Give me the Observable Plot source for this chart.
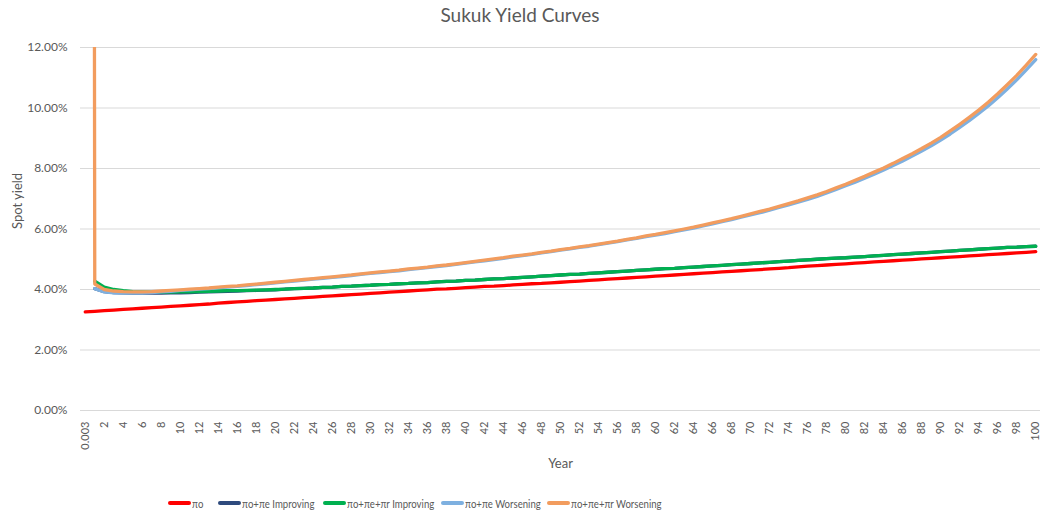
<!DOCTYPE html>
<html><head><meta charset="utf-8">
<script src="https://cdn.jsdelivr.net/npm/d3@7"></script>
<script src="https://cdn.jsdelivr.net/npm/@observablehq/plot@0.6"></script>
<style>
body{margin:0;background:#fff;font-family:Lato,"Open Sans",sans-serif;}
#wrap{position:relative;width:1040px;height:512px;overflow:hidden;background:#fff;}
#title{position:absolute;top:3px;left:0;width:1040px;text-align:center;font-size:19px;color:#595959;line-height:24px;}
#chart{position:absolute;top:30px;left:0;}
#legend{position:absolute;top:495px;left:0;width:1040px;height:16px;font-size:12px;color:#595959;white-space:nowrap;}
.item{position:absolute;top:0;display:flex;align-items:center;height:16px;}
.sw{width:23px;height:3.5px;border-radius:2px;margin-right:1px;flex:none;}
.tx{display:inline-block;transform:scaleX(0.8);transform-origin:left center;}
</style></head>
<body><div id="wrap"><div id="title">Sukuk Yield Curves</div><div id="chart"></div><div id="legend"></div></div>
<script>
const years = ["0.003",1,2,3,4,5,6,7,8,9,10,11,12,13,14,15,16,17,18,19,20,21,22,23,24,25,26,27,28,29,30,31,32,33,34,35,36,37,38,39,40,41,42,43,44,45,46,47,48,49,50,51,52,53,54,55,56,57,58,59,60,61,62,63,64,65,66,67,68,69,70,71,72,73,74,75,76,77,78,79,80,81,82,83,84,85,86,87,88,89,90,91,92,93,94,95,96,97,98,99,100].map(String);

const seriesNames = ["πo","πo+πe Improving","πo+πe+πr Improving","πo+πe Worsening","πo+πe+πr Worsening"];
const seriesColors = ["#FF0000","#2E4A7D","#00B050","#7EB0E0","#F29C5E"];
const legendLeft = [168,218,323,441,547];

const piO = [3.26,3.28,3.30,3.32,3.34,3.36,3.38,3.40,3.42,3.44,
3.46,3.48,3.50,3.52,3.55,3.57,3.59,3.61,3.63,3.65,
3.67,3.69,3.71,3.73,3.75,3.77,3.79,3.81,3.83,3.85,
3.87,3.89,3.91,3.93,3.95,3.97,3.99,4.01,4.02,4.04,
4.06,4.08,4.10,4.11,4.13,4.15,4.17,4.19,4.20,4.22,
4.24,4.26,4.28,4.30,4.32,4.34,4.36,4.38,4.40,4.42,
4.44,4.46,4.48,4.50,4.52,4.54,4.56,4.58,4.60,4.62,
4.64,4.66,4.68,4.70,4.72,4.75,4.77,4.79,4.81,4.83,
4.85,4.87,4.89,4.91,4.93,4.95,4.97,4.99,5.01,5.03,
5.05,5.07,5.09,5.11,5.13,5.15,5.17,5.19,5.21,5.23,5.25];

const piOEImproving = [null,4.03,3.93,3.90,3.89,3.88,3.88,3.88,3.88,3.89,
3.89,3.90,3.91,3.92,3.93,3.94,3.95,3.96,3.97,3.98,
3.99,4.01,4.03,4.04,4.05,4.07,4.08,4.10,4.11,4.13,
4.14,4.16,4.17,4.19,4.20,4.22,4.23,4.25,4.27,4.28,
4.30,4.31,4.33,4.35,4.36,4.38,4.40,4.42,4.44,4.46,
4.48,4.50,4.51,4.53,4.55,4.57,4.59,4.61,4.63,4.65,
4.67,4.69,4.70,4.72,4.74,4.76,4.78,4.80,4.82,4.84,
4.86,4.88,4.90,4.92,4.94,4.96,4.98,5.00,5.02,5.04,
5.05,5.07,5.09,5.11,5.13,5.15,5.17,5.19,5.21,5.23,
5.25,5.27,5.29,5.31,5.33,5.35,5.37,5.39,5.40,5.42,5.43];

const piOERImproving = [null,4.28,4.08,4.00,3.96,3.93,3.92,3.91,3.91,3.91,
3.92,3.92,3.93,3.94,3.95,3.96,3.96,3.97,3.98,3.99,
4.00,4.01,4.03,4.04,4.05,4.07,4.08,4.10,4.11,4.13,
4.14,4.16,4.17,4.19,4.20,4.22,4.23,4.25,4.27,4.28,
4.30,4.31,4.33,4.35,4.36,4.38,4.40,4.42,4.44,4.46,
4.48,4.50,4.51,4.53,4.55,4.57,4.59,4.61,4.63,4.65,
4.67,4.69,4.70,4.72,4.74,4.76,4.78,4.80,4.82,4.84,
4.86,4.88,4.90,4.92,4.94,4.96,4.98,5.00,5.02,5.04,
5.05,5.07,5.09,5.11,5.13,5.15,5.17,5.19,5.21,5.23,
5.25,5.27,5.29,5.31,5.33,5.35,5.37,5.39,5.40,5.42,5.43];

const piOEWorsening = [null,4.03,3.92,3.89,3.88,3.88,3.88,3.90,3.92,3.94,
3.97,3.99,4.01,4.03,4.06,4.08,4.10,4.13,4.16,4.19,
4.22,4.25,4.28,4.31,4.34,4.37,4.40,4.43,4.46,4.50,
4.53,4.56,4.59,4.62,4.66,4.69,4.72,4.76,4.79,4.83,
4.87,4.91,4.95,4.99,5.03,5.08,5.12,5.16,5.21,5.25,
5.30,5.34,5.39,5.43,5.48,5.53,5.58,5.64,5.69,5.75,
5.80,5.85,5.91,5.97,6.03,6.10,6.17,6.24,6.31,6.39,
6.47,6.54,6.62,6.71,6.80,6.89,6.98,7.08,7.19,7.31,
7.43,7.55,7.68,7.81,7.95,8.10,8.25,8.41,8.58,8.75,
8.94,9.14,9.36,9.58,9.82,10.07,10.34,10.63,10.93,11.26,11.60];

const piOERWorsening = [250,4.18,4.00,3.95,3.93,3.92,3.92,3.93,3.95,3.97,
3.99,4.01,4.03,4.05,4.08,4.10,4.12,4.15,4.18,4.21,
4.24,4.27,4.30,4.33,4.36,4.39,4.42,4.45,4.48,4.52,
4.55,4.58,4.61,4.64,4.68,4.71,4.74,4.78,4.81,4.85,
4.89,4.93,4.97,5.01,5.05,5.10,5.14,5.18,5.23,5.27,
5.32,5.36,5.41,5.45,5.50,5.55,5.60,5.66,5.71,5.77,
5.82,5.88,5.94,6.00,6.06,6.13,6.20,6.27,6.34,6.42,
6.50,6.58,6.66,6.75,6.84,6.93,7.03,7.13,7.24,7.36,
7.48,7.61,7.74,7.88,8.02,8.17,8.33,8.49,8.66,8.84,
9.03,9.24,9.46,9.69,9.93,10.19,10.47,10.77,11.08,11.42,11.77];

const yTicks = [0,2,4,6,8,10,12];
const xTickLabels = years.filter((d,i)=>i%2===0);

const allSeries = [piO, piOEImproving, piOERImproving, piOEWorsening, piOERWorsening];
const rows = s => years.map((yr,i)=>({yr, v: s[i]}));

const font = "Lato, 'Open Sans', sans-serif";
const plot = Plot.plot({
  width:1040, height:450,
  marginTop:17, marginBottom:70, marginLeft:80, marginRight:0,
  style:{fontFamily:font, fontSize:"12px", color:"#595959", background:"white", overflow:"visible"},
  x:{type:"point", domain:years, padding:0.5, label:null},
  y:{domain:[0,12], label:null},
  marks:[
    Plot.gridY(yTicks,{stroke:"#d9d9d9", strokeOpacity:1, strokeWidth:1}),
    Plot.axisY(yTicks,{tickSize:0, tickPadding:13, tickFormat:d=>d.toFixed(2)+"%", fontSize:12, fill:"#595959", label:null}),
    Plot.axisX(xTickLabels,{tickSize:0, tickRotate:-90, tickPadding:11, fontSize:11, fill:"#595959", label:null}),
    Plot.text(["Spot yield"],{frameAnchor:"left", dx:-63, rotate:-90, fontSize:13, fill:"#595959"}),
    Plot.text(["Year"],{frameAnchor:"bottom", dy:57, fontSize:13, fill:"#595959"}),
    ...allSeries.map((s,k)=>Plot.line(rows(s),{x:"yr", y:"v", stroke:seriesColors[k], strokeWidth:3.3, clip:true, strokeLinejoin:"round", strokeLinecap:"round"}))
  ]
});
document.getElementById("chart").appendChild(plot);

const leg = document.getElementById("legend");
seriesNames.forEach((n,k)=>{
  const it = document.createElement("div"); it.className="item"; it.style.left = legendLeft[k]+"px";
  const sw = document.createElement("div"); sw.className="sw"; sw.style.background=seriesColors[k];
  const tx = document.createElement("span"); tx.className="tx"; tx.textContent=n;
  it.appendChild(sw); it.appendChild(tx); leg.appendChild(it);
});
</script></body></html>
